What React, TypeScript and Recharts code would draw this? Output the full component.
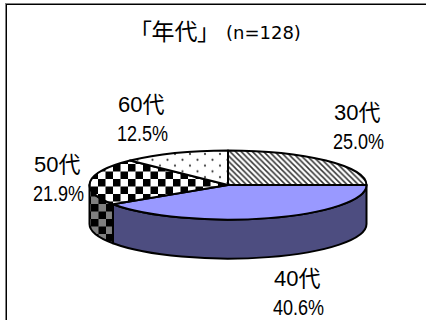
import { PieChart, Pie } from 'recharts'

const ageNames = ['30代', '40代', '50代', '60代']
const agePercents = [25.0, 40.6, 21.9, 12.5]

const pieData = ageNames.map((name, i) => ({ name, value: agePercents[i] }))

const FONT = '"Liberation Sans", "Noto Sans CJK JP", sans-serif'
const WIDTH = 426
const HEIGHT = 320
const CX = 228
const CY = 185
const RADIUS = 138.5
const SQUASH = 0.25
const DEPTH = 39

const topFills: Record<string, string> = {
  '30代': 'url(#stripes)',
  '40代': '#9999FF',
  '50代': 'url(#checker)',
  '60代': 'url(#dots)',
}
const sideFills: Record<string, string> = {
  '30代': '#808080',
  '40代': '#4D4D80',
  '50代': 'url(#checkerDark)',
  '60代': '#808080',
}
// left edge of each two-line label and the baseline of its first line
const labelAnchors: Record<string, { x: number; y: number }> = {
  '30代': { x: 334, y: 120 },
  '40代': { x: 274, y: 286 },
  '50代': { x: 34, y: 172 },
  '60代': { x: 118, y: 112 },
}

// point on the tilted rim, angle in degrees clockwise from 3 o'clock
function rim(cx: number, cy: number, r: number, deg: number) {
  const a = (deg * Math.PI) / 180
  return { x: cx + r * Math.cos(a), y: cy + r * SQUASH * Math.sin(a) }
}

// one slice of the flattened disc: side wall first, then the top face
function DiscSlice(props: any) {
  const { cx, cy, outerRadius: r, startAngle, endAngle, name } = props
  const s = -startAngle
  const e = -endAngle
  const ry = r * SQUASH
  const a = rim(cx, cy, r, s)
  const b = rim(cx, cy, r, e)
  const large = e - s > 180 ? 1 : 0
  const top = `M${cx},${cy} L${a.x},${a.y} A${r},${ry} 0 ${large} 1 ${b.x},${b.y} Z`

  const lo = Math.max(s, 0)
  const hi = Math.min(e, 180)
  let side = null
  if (hi > lo) {
    const p = rim(cx, cy, r, lo)
    const q = rim(cx, cy, r, hi)
    const d = `M${p.x},${p.y} A${r},${ry} 0 0 1 ${q.x},${q.y} L${q.x},${q.y + DEPTH} A${r},${ry} 0 0 0 ${p.x},${p.y + DEPTH} Z`
    side = <path d={d} fill={sideFills[name]} stroke="#000" strokeWidth={2} strokeLinejoin="round" />
  }
  return (
    <g>
      {side}
      <path d={top} fill={topFills[name]} stroke="#000" strokeWidth={2} strokeLinejoin="round" />
    </g>
  )
}

function renderLabel(props: any) {
  const pos = labelAnchors[props.name]
  return (
    <g fill="#000" fontFamily={FONT} fontSize={22}>
      <text x={pos.x} y={pos.y}>{props.name}</text>
      {/* the percent line is set condensed */}
      <text transform={`translate(${pos.x - 1},${pos.y + 29}) scale(0.82,1)`}>{props.value.toFixed(1)}%</text>
    </g>
  )
}

export default function App() {
  return (
    <div style={{ position: 'absolute', left: 0, top: 0, width: WIDTH, height: HEIGHT, background: '#fff' }}>
      <div style={{ position: 'absolute', left: 5, top: 3, right: 0, height: 1, background: '#808080' }} />
      <div style={{ position: 'absolute', left: 5, top: 4, right: 0, height: 1, background: '#000' }} />
      <div style={{ position: 'absolute', left: 5, top: 3, bottom: 0, width: 1, background: '#808080' }} />
      <div style={{ position: 'absolute', left: 6, top: 4, bottom: 0, width: 1, background: '#000' }} />
      <PieChart width={WIDTH} height={HEIGHT} margin={{ top: 0, right: 0, bottom: 0, left: 0 }}>
        <defs>
          <pattern id="stripes" patternUnits="userSpaceOnUse" width="5.6" height="5.6">
            <rect width="5.6" height="5.6" fill="#fff" />
            <path d="M-1,-1 L6.6,6.6 M-1,4.6 L1,6.6 M4.6,-1 L6.6,1" stroke="#333" strokeWidth="1.5" />
          </pattern>
          <pattern id="dots" patternUnits="userSpaceOnUse" width="15" height="11.6" patternTransform="translate(175,154)">
            <rect width="15" height="11.6" fill="#fff" />
            <circle cx="0" cy="0" r="1.1" fill="#444" />
            <circle cx="15" cy="0" r="1.1" fill="#444" />
            <circle cx="0" cy="11.6" r="1.1" fill="#444" />
            <circle cx="15" cy="11.6" r="1.1" fill="#444" />
            <circle cx="7.5" cy="5.8" r="1.1" fill="#444" />
          </pattern>
          <pattern id="checker" patternUnits="userSpaceOnUse" width="15" height="15" patternTransform="translate(8,14)">
            <rect width="15" height="15" fill="#fff" />
            <rect width="7.5" height="7.5" fill="#000" />
            <rect x="7.5" y="7.5" width="7.5" height="7.5" fill="#000" />
          </pattern>
          <pattern id="checkerDark" patternUnits="userSpaceOnUse" width="15" height="15" patternTransform="translate(1,9)">
            <rect width="15" height="15" fill="#808080" />
            <rect width="7.5" height="7.5" fill="#000" />
            <rect x="7.5" y="7.5" width="7.5" height="7.5" fill="#000" />
          </pattern>
        </defs>
        <text x={140} y={40} fontFamily={FONT} fontSize={23} fill="#000" style={{ fontFeatureSettings: '"palt"' }}>「年代」</text>
        <text x={226} y={39} fontFamily='"DejaVu Sans", sans-serif' fontSize={18} fill="#000">(n=128)</text>
        <Pie
          data={pieData}
          dataKey="value"
          nameKey="name"
          cx={CX}
          cy={CY}
          innerRadius={0}
          outerRadius={RADIUS}
          startAngle={90}
          endAngle={-270}
          paddingAngle={0}
          stroke="none"
          shape={DiscSlice}
          label={renderLabel}
          labelLine={false}
          isAnimationActive={false}
        />
      </PieChart>
    </div>
  )
}
